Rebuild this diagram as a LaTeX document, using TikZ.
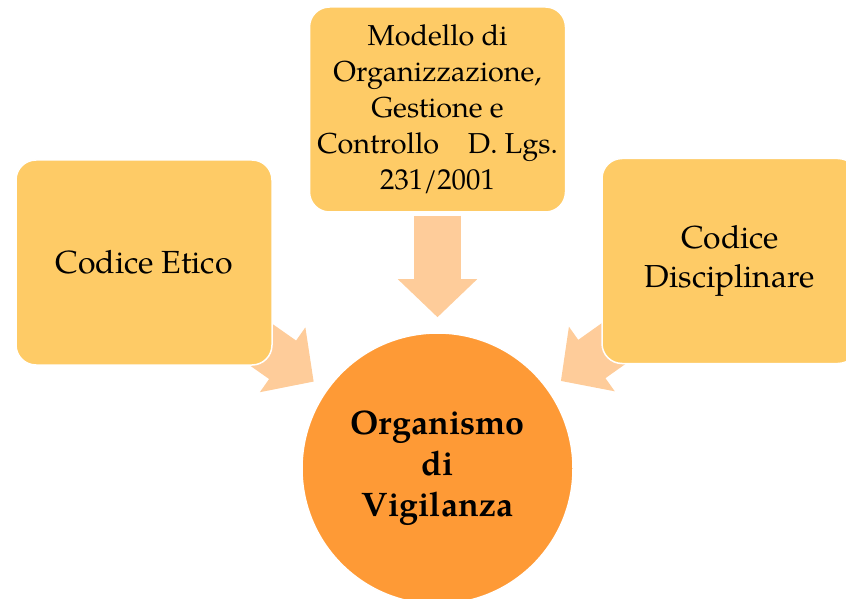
\documentclass[tikz,border=0pt]{standalone}
\usepackage{fontspec}
\setmainfont{TeX Gyre Pagella}
\usetikzlibrary{arrows.meta,backgrounds}
\definecolor{boxgold}{HTML}{FECB66}
\definecolor{arrowpeach}{HTML}{FECC9A}
\definecolor{odvorange}{HTML}{FE9A36}

\begin{document}
\begin{tikzpicture}[x=1pt,y=1pt,
  codebox/.style={draw=white,line width=1.5pt,fill=boxgold,rounded corners=20pt,
    minimum width=256pt,minimum height=205pt,align=center,inner sep=0pt},
  bigarrow/.style={draw=arrowpeach,line width=47pt,
    -{Triangle[width=77pt,length=38pt]},shorten >=15pt}]
  \useasboundingbox (0,0) rectangle (846,598);
  \clip (0,0) rectangle (846,598);

  % the three sources
  \node[codebox,font=\fontsize{32}{40}\selectfont] (etico) at (144,335.5) {Codice Etico};
  \node[codebox,font=\fontsize{28.8}{36}\selectfont] (modello) at (437.5,488.5)
    {Modello di\\Organizzazione,\\Gestione e\\Controllo\quad D. Lgs.\\231/2001};
  \node[codebox,font=\fontsize{31.8}{39}\selectfont] (discipl) at (730,337) {Codice\\Disciplinare};

  % the body they point to
  \node[circle,draw=white,line width=1.5pt,fill=odvorange,minimum size=271pt,inner sep=0pt,
    align=center,font=\bfseries\fontsize{34}{41}\selectfont] (odv) at (437.5,129.5)
    {Organismo\\di\\Vigilanza};

  \begin{scope}[on background layer]
    \draw[bigarrow] (etico.center) -- (odv);
    \draw[bigarrow,shorten <=3pt] (modello) -- (odv);
    \draw[bigarrow] (discipl.center) -- (odv);
  \end{scope}
\end{tikzpicture}
\end{document}
